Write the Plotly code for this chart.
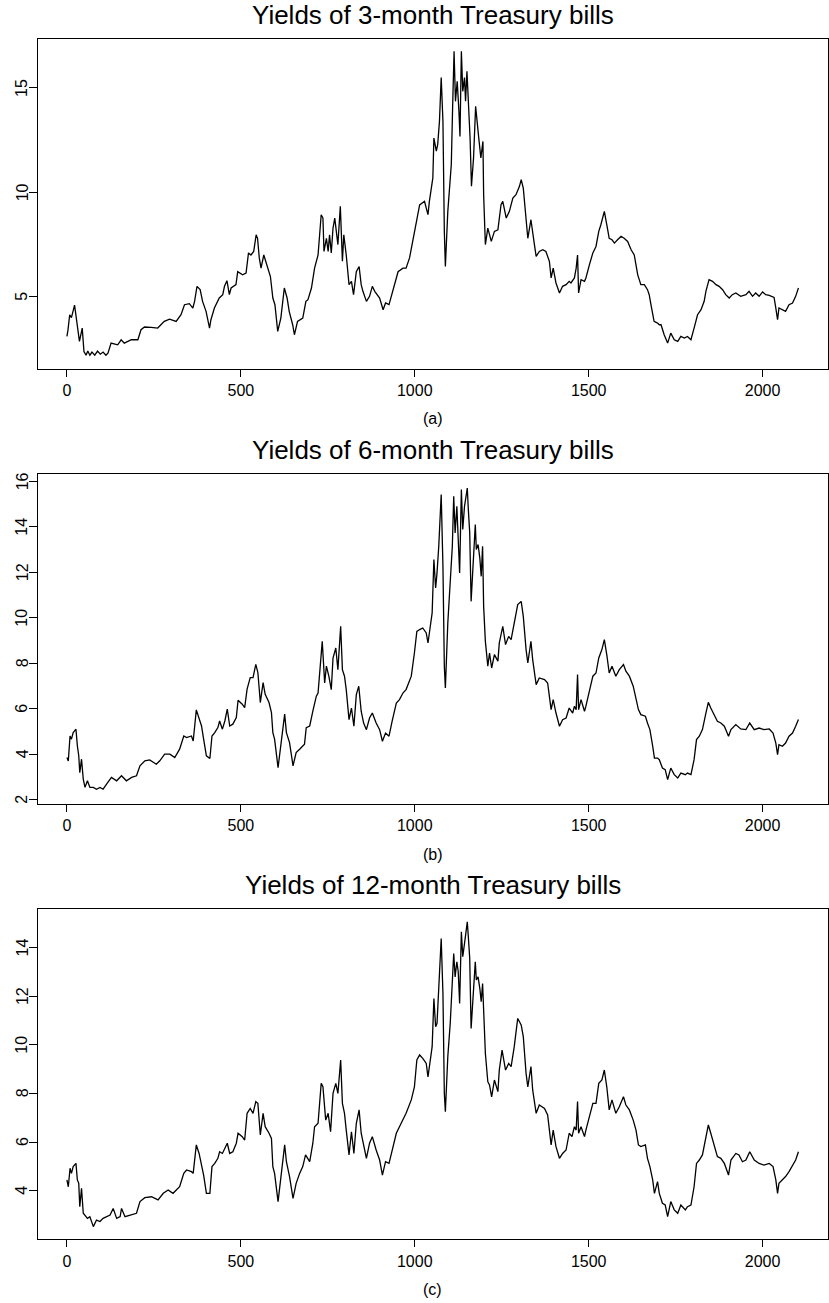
import plotly.graph_objects as go

# ---------------- data ----------------
t_3m = [0, 3, 8, 13, 22, 30, 36, 44, 49, 55, 60, 66, 72, 80, 88, 96, 104, 112, 118, 127, 146, 156, 165, 185, 204, 213, 223, 242, 261, 280, 295, 314, 328, 338, 352, 362, 367, 374, 383, 390, 400, 410, 414, 424, 438, 448, 453, 460, 467, 472, 486, 491, 505, 515, 522, 529, 537, 544, 548, 553, 558, 566, 577, 585, 592, 598, 606, 615, 625, 633, 639, 649, 654, 663, 678, 687,
        693, 703, 712, 722, 731, 736, 739, 746, 751, 755, 760, 765, 770, 774, 779, 786, 792, 796, 803, 811, 818, 824, 832, 840, 846, 851, 861, 870, 878, 885, 899, 909, 916, 926, 937, 952, 966, 975, 985, 995, 1004, 1014, 1028, 1038, 1042, 1052, 1055, 1062, 1066, 1071, 1076, 1081, 1085, 1088, 1095, 1100, 1105, 1109, 1113, 1117, 1122, 1127, 1130, 1134, 1138, 1143, 1146, 1150, 1154, 1159, 1163, 1169, 1175, 1179, 1184, 1190, 1196, 1198, 1203, 1210, 1220, 1229, 1239, 1248, 1253, 1263, 1272, 1282, 1291, 1301, 1306, 1312, 1320, 1325, 1334, 1339, 1344, 1349, 1358, 1368, 1377, 1387, 1392, 1398, 1406, 1416, 1425, 1435, 1444,
        1449, 1459, 1464, 1468, 1471, 1478, 1488, 1492, 1502, 1512, 1521, 1529, 1535, 1540, 1545, 1552, 1559, 1567, 1574, 1583, 1593, 1602, 1612, 1622, 1631, 1636, 1641, 1650, 1660, 1669, 1674, 1679, 1684, 1688, 1698, 1703, 1708, 1717, 1727, 1736, 1746, 1756, 1765, 1775, 1784, 1794, 1803, 1813, 1823, 1832, 1837, 1846, 1856, 1866, 1875, 1885, 1894, 1904, 1913, 1923, 1937, 1952, 1961, 1971, 1980, 1990, 2000, 2009, 2019, 2033, 2038, 2043, 2047, 2057, 2066, 2076, 2086, 2095, 2103]
y_3m = [3.1, 3.4, 4.14, 4.0, 4.6, 3.66, 2.86, 3.5, 2.38, 2.2, 2.4, 2.2, 2.35, 2.2, 2.4, 2.25, 2.35, 2.2, 2.3, 2.78, 2.7, 2.94, 2.78, 2.94, 2.94, 3.42, 3.55, 3.53, 3.5, 3.82, 3.93, 3.82, 4.14, 4.62, 4.67, 4.46, 4.78, 5.5, 5.34, 4.78, 4.3, 3.5, 3.9, 4.46, 4.94, 5.1, 5.5, 5.77, 5.1, 5.42, 5.58, 6.2, 6.05, 6.13, 7.1, 7.0, 7.17, 7.97, 7.8, 6.86, 6.37, 7.0, 6.37, 5.97, 4.94, 4.62, 3.34, 3.98, 5.42, 4.94, 4.3, 3.66, 3.18, 3.82, 3.98, 4.78,
        4.86, 5.42, 6.37, 7.0, 8.93, 8.77, 7.17, 7.8, 7.17, 7.97, 7.1, 8.29, 8.77, 8.13, 7.5, 9.33, 6.7, 7.97, 7.0, 5.58, 5.74, 5.1, 6.2, 6.45, 5.58, 5.26, 4.78, 5.02, 5.5, 5.26, 4.94, 4.38, 4.7, 4.62, 5.26, 6.2, 6.37, 6.37, 6.86, 7.8, 8.44, 9.4, 9.57, 8.93, 9.57, 10.69, 12.6, 11.97, 12.3, 13.4, 15.5, 13.4, 8.13, 6.45, 9.09, 10.05, 11.33, 14.2, 16.76, 14.36, 15.32, 13.88, 12.68, 16.76, 14.84, 15.5, 14.36, 15.8, 14.36, 12.6, 10.29, 11.65, 14.12, 13.24, 12.6, 11.65, 12.44, 9.89, 7.5, 8.29, 7.65, 8.13, 8.21, 9.41, 9.57, 8.77, 9.09, 9.73, 9.89, 10.29, 10.61, 10.2, 8.77, 7.8, 8.69, 7.97, 7.5, 6.93, 7.17, 7.25, 7.17, 6.7, 5.9, 6.37, 5.66, 5.18, 5.5, 5.58, 5.74,
        5.66, 5.9, 6.37, 7.0, 5.18, 5.82, 5.74, 5.9, 6.53, 7.1, 7.41, 8.13, 8.45, 8.77, 9.09, 8.45, 7.8, 7.73, 7.57, 7.73, 7.89, 7.8, 7.65, 7.25, 7.0, 6.53, 6.05, 5.58, 5.58, 5.34, 5.1, 4.62, 4.14, 3.82, 3.74, 3.66, 3.66, 3.18, 2.78, 3.26, 2.94, 2.86, 3.1, 3.02, 3.1, 2.94, 3.5, 4.14, 4.38, 4.78, 5.26, 5.82, 5.74, 5.58, 5.5, 5.34, 5.1, 4.94, 5.1, 5.18, 5.02, 5.1, 5.26, 5.02, 5.18, 5.02, 5.23, 5.1, 5.07, 4.97, 4.46, 3.9, 4.46, 4.38, 4.3, 4.62, 4.7, 5.02, 5.42]

t_6m = [0, 4, 9, 13, 18, 26, 30, 34, 37, 42, 47, 52, 59, 66, 76, 85, 95, 104, 114, 128, 143, 157, 171, 186, 200, 210, 224, 238, 257, 267, 281, 296, 310, 324, 336, 344, 358, 363, 372, 380, 387, 393, 401, 411, 417, 425, 434, 439, 447, 454, 461, 468, 477, 487, 492, 504, 511, 518, 527, 535, 543, 549, 556, 564, 570, 581, 588, 592, 597, 607, 614, 621, 626, 631, 640, 650, 659, 669, 683, 688, 698,
        707, 717, 722, 729, 734, 741, 746, 753, 760, 765, 773, 779, 787, 792, 798, 803, 811, 818, 825, 832, 839, 846, 853, 861, 870, 878, 889, 899, 907, 916, 926, 935, 947, 956, 966, 975, 990, 999, 1006, 1014, 1023, 1033, 1038, 1042, 1050, 1055, 1060, 1064, 1069, 1076, 1081, 1085, 1088, 1095, 1102, 1108, 1112, 1116, 1121, 1125, 1129, 1134, 1138, 1143, 1148, 1151, 1154, 1158, 1162, 1167, 1174, 1177, 1182, 1187, 1191, 1195, 1198, 1203, 1210, 1215, 1221, 1229, 1239, 1243, 1253, 1261, 1270, 1277, 1286, 1296, 1306, 1312, 1320, 1325, 1334, 1339, 1349, 1358, 1373, 1382, 1392, 1398, 1406, 1416, 1425, 1435, 1444,
        1454, 1459, 1464, 1468, 1471, 1478, 1488, 1492, 1502, 1512, 1521, 1529, 1538, 1545, 1552, 1559, 1567, 1578, 1588, 1600, 1607, 1617, 1628, 1636, 1643, 1650, 1663, 1669, 1676, 1684, 1689, 1698, 1703, 1712, 1720, 1727, 1736, 1746, 1756, 1765, 1778, 1784, 1794, 1803, 1810, 1818, 1827, 1837, 1844, 1851, 1861, 1870, 1880, 1890, 1902, 1909, 1923, 1937, 1952, 1963, 1976, 1990, 2004, 2019, 2030, 2038, 2043, 2047, 2057, 2066, 2076, 2086, 2095, 2103]
y_6m = [3.85, 3.7, 4.8, 4.66, 4.95, 5.1, 4.37, 3.93, 3.19, 3.78, 2.9, 2.54, 2.83, 2.54, 2.54, 2.46, 2.54, 2.46, 2.68, 2.98, 2.83, 3.05, 2.83, 2.98, 3.05, 3.49, 3.71, 3.75, 3.56, 3.71, 4.0, 4.0, 3.85, 4.22, 4.8, 4.73, 4.8, 4.58, 5.95, 5.61, 5.24, 4.66, 3.93, 3.81, 4.8, 4.95, 5.17, 5.46, 5.1, 5.46, 5.98, 5.24, 5.32, 5.61, 6.37, 6.2, 6.05, 6.86, 7.37, 7.37, 7.95, 7.59, 6.27, 7.15, 6.63, 6.27, 5.83, 4.95, 4.66, 3.41, 4.37, 5.24, 5.76, 4.95, 4.51, 3.49, 4.07, 4.22, 4.44, 5.17, 5.24,
        5.89, 6.55, 6.69, 7.87, 8.96, 7.13, 7.87, 7.43, 6.84, 8.23, 8.67, 7.72, 9.62, 7.72, 7.43, 6.84, 5.52, 6.03, 5.23, 6.62, 6.99, 5.89, 5.37, 5.08, 5.59, 5.81, 5.37, 5.08, 4.57, 4.93, 4.79, 5.45, 6.25, 6.4, 6.69, 6.84, 7.43, 8.45, 9.4, 9.48, 9.55, 9.33, 8.89, 9.33, 10.21, 12.56, 11.31, 11.97, 13.14, 15.42, 12.26, 7.87, 6.91, 9.77, 11.38, 13.14, 15.34, 13.73, 14.9, 13.58, 11.97, 15.64, 13.88, 14.9, 15.49, 15.7, 14.76, 13.73, 10.72, 11.97, 14.1, 13.0, 13.22, 12.63, 11.82, 13.14, 10.5, 8.96, 7.87, 8.45, 7.79, 8.38, 8.09, 8.89, 9.62, 8.82, 9.18, 9.04, 9.84, 10.58, 10.72, 10.06, 8.6, 8.01, 8.96, 8.16, 7.06, 7.35, 7.28, 7.13, 5.96, 6.4, 5.81, 5.23, 5.52, 5.59, 6.03,
        5.81, 6.11, 5.96, 7.5, 5.96, 6.4, 5.89, 6.11, 6.77, 7.43, 7.57, 8.23, 8.6, 9.04, 8.38, 7.57, 7.87, 7.43, 7.72, 7.94, 7.65, 7.43, 6.99, 6.4, 5.96, 5.74, 5.67, 5.37, 5.08, 4.35, 3.83, 3.83, 3.76, 3.39, 3.32, 2.88, 3.39, 3.1, 2.95, 3.17, 3.1, 3.17, 3.1, 3.76, 4.64, 4.79, 5.08, 5.81, 6.28, 6.03, 5.74, 5.45, 5.37, 5.23, 4.79, 5.08, 5.3, 5.11, 5.08, 5.37, 5.08, 5.15, 5.08, 5.11, 4.93, 4.49, 3.98, 4.42, 4.35, 4.49, 4.79, 4.93, 5.23, 5.52]

t_12m = [0, 4, 9, 13, 18, 26, 30, 34, 37, 42, 47, 52, 59, 66, 76, 85, 95, 104, 114, 124, 133, 143, 153, 157, 167, 181, 200, 210, 224, 243, 262, 277, 291, 305, 324, 336, 344, 358, 363, 372, 380, 387, 393, 401, 411, 417, 425, 434, 439, 447, 454, 461, 468, 477, 487, 492, 504, 511, 518, 527, 535, 543, 549, 556, 564, 570, 581, 588, 592, 597, 607, 614, 621, 626, 631, 640, 650, 659, 669, 678, 686, 698,
         707, 712, 722, 731, 736, 744, 751, 758, 765, 773, 779, 787, 792, 798, 803, 811, 818, 825, 832, 840, 846, 853, 861, 870, 878, 889, 899, 907, 916, 926, 935, 947, 956, 966, 975, 990, 999, 1006, 1014, 1023, 1033, 1038, 1042, 1050, 1055, 1060, 1064, 1069, 1076, 1081, 1085, 1088, 1095, 1102, 1108, 1112, 1116, 1121, 1125, 1129, 1134, 1138, 1143, 1148, 1151, 1154, 1158, 1162, 1167, 1174, 1177, 1182, 1187, 1191, 1195, 1198, 1203, 1210, 1215, 1221, 1229, 1239, 1243, 1251, 1261, 1270, 1277, 1286, 1296, 1306, 1312, 1320, 1325, 1334, 1339, 1349, 1358, 1373, 1382, 1392, 1398, 1406, 1416, 1425, 1435, 1444,
         1452, 1459, 1464, 1468, 1471, 1478, 1488, 1492, 1502, 1512, 1521, 1529, 1538, 1545, 1552, 1559, 1567, 1578, 1588, 1600, 1607, 1617, 1628, 1636, 1643, 1650, 1663, 1669, 1676, 1684, 1689, 1698, 1703, 1712, 1720, 1727, 1736, 1746, 1756, 1765, 1778, 1784, 1794, 1803, 1810, 1818, 1827, 1837, 1844, 1851, 1861, 1870, 1880, 1890, 1902, 1909, 1923, 1932, 1942, 1952, 1963, 1976, 1990, 2004, 2019, 2030, 2038, 2043, 2047, 2057, 2066, 2076, 2086, 2095, 2103]
y_12m = [4.44, 4.16, 4.92, 4.71, 4.99, 5.12, 4.44, 4.3, 3.34, 4.1, 3.07, 3.0, 2.86, 2.93, 2.52, 2.79, 2.73, 2.86, 2.93, 3.0, 3.27, 2.86, 2.93, 3.27, 2.93, 3.0, 3.07, 3.55, 3.71, 3.75, 3.62, 3.89, 4.03, 3.89, 4.16, 4.71, 4.85, 4.78, 4.71, 5.88, 5.53, 5.05, 4.64, 3.89, 3.89, 4.99, 5.12, 5.33, 5.6, 5.53, 5.74, 5.95, 5.53, 5.6, 5.95, 6.36, 6.22, 6.08, 7.18, 7.38, 7.18, 7.66, 7.59, 6.29, 7.18, 6.63, 6.36, 6.15, 4.99, 4.71, 3.55, 4.44, 5.4, 5.88, 5.19, 4.58, 3.68, 4.3, 4.71, 4.99, 5.47, 5.19,
         5.95, 6.63, 6.77, 8.41, 8.27, 6.9, 7.18, 6.42, 8.0, 8.41, 8.0, 9.37, 7.59, 7.18, 6.49, 5.47, 6.42, 5.53, 6.77, 7.32, 6.36, 5.81, 5.33, 5.95, 6.22, 5.67, 5.26, 4.64, 5.19, 5.12, 5.67, 6.36, 6.63, 6.9, 7.18, 7.73, 8.27, 9.37, 9.58, 9.44, 9.23, 8.68, 9.03, 9.92, 11.9, 10.74, 10.88, 12.52, 14.37, 12.11, 8.0, 7.25, 9.51, 10.88, 12.38, 13.75, 12.79, 13.41, 13.0, 11.7, 14.64, 13.62, 14.16, 14.71, 15.05, 14.44, 13.55, 10.67, 11.84, 13.41, 12.66, 12.79, 12.32, 11.77, 12.52, 11.15, 9.64, 8.48, 8.34, 7.86, 8.55, 8.07, 8.96, 9.78, 8.96, 9.23, 9.1, 9.92, 11.08, 10.81, 10.33, 8.82, 8.27, 9.1, 8.14, 7.18, 7.52, 7.38, 7.11, 5.88, 6.49, 5.81, 5.33, 5.53, 5.67, 6.36,
         6.22, 6.63, 6.49, 7.66, 6.36, 6.63, 6.22, 6.49, 7.04, 7.59, 7.59, 8.41, 8.55, 8.96, 8.27, 7.32, 7.73, 7.18, 7.45, 7.86, 7.52, 7.32, 6.9, 6.49, 5.88, 5.81, 5.88, 5.33, 4.99, 4.44, 3.89, 4.37, 3.89, 3.48, 3.41, 2.93, 3.55, 3.21, 3.07, 3.41, 3.21, 3.34, 3.41, 4.16, 5.12, 5.26, 5.47, 6.22, 6.7, 6.36, 5.88, 5.4, 5.33, 5.12, 4.64, 5.26, 5.53, 5.47, 5.19, 5.26, 5.6, 5.26, 5.12, 5.05, 5.12, 4.99, 4.44, 3.89, 4.3, 4.44, 4.58, 4.78, 5.05, 5.26, 5.6]

titles = ["Yields of 3-month Treasury bills",
          "Yields of 6-month Treasury bills",
          "Yields of 12-month Treasury bills"]
sublabels = ["(a)", "(b)", "(c)"]
x_ticks = [0, 500, 1000, 1500, 2000]
y_ticks = [[5, 10, 15],
           [2, 4, 6, 8, 10, 12, 14, 16],
           [4, 6, 8, 10, 12, 14]]

# ---------------- layout (pixels) ----------------
W, H = 829, 1303
left_px, right_px = 37.7, 828.0
boxes = [(38.7, 369.0), (474.0, 804.0), (909.0, 1239.3)]
y_ranges = [[1.54, 17.36], [1.81, 16.32], [2.0, 15.58]]
x_range = [-84, 2188]
ylabel_center_px = 22.0

FONT = "Liberation Sans, Arial, Helvetica, sans-serif"

def py(p):
    return 1 - p / H

series = [(t_3m, y_3m), (t_6m, y_6m), (t_12m, y_12m)]

fig = go.Figure()
layout = dict(
    width=W, height=H,
    margin=dict(l=0, r=0, t=0, b=0),
    paper_bgcolor="white", plot_bgcolor="white",
    showlegend=False,
    font=dict(family=FONT, color="black", size=16),
)
annotations = []
for i, ((tx, ty), (top, bot)) in enumerate(zip(series, boxes)):
    sfx = "" if i == 0 else str(i + 1)
    fig.add_trace(go.Scatter(x=tx, y=ty, mode="lines",
                             line=dict(color="black", width=1.3),
                             xaxis="x" + sfx, yaxis="y" + sfx,
                             hoverinfo="skip"))
    layout["xaxis" + sfx] = dict(
        domain=[left_px / W, right_px / W], range=x_range,
        anchor="y" + sfx, tickvals=x_ticks, ticktext=[str(v) for v in x_ticks],
        ticks="outside", ticklen=7, tickwidth=1, tickcolor="black",
        showline=True, linecolor="black", linewidth=1, mirror=True,
        showgrid=False, zeroline=False,
        tickfont=dict(family=FONT, size=16, color="black"),
    )
    layout["yaxis" + sfx] = dict(
        domain=[py(bot), py(top)], range=y_ranges[i],
        anchor="x" + sfx, tickvals=y_ticks[i], showticklabels=False,
        ticks="outside", ticklen=8, tickwidth=1, tickcolor="black",
        showline=True, linecolor="black", linewidth=1, mirror=True,
        showgrid=False, zeroline=False,
    )
    # rotated y tick labels placed at the tick values
    for v in y_ticks[i]:
        annotations.append(dict(text=str(v), x=ylabel_center_px / W, y=v,
                                xref="paper", yref="y" + sfx,
                                xanchor="center", yanchor="middle", textangle=-90,
                                showarrow=False,
                                font=dict(family=FONT, size=16, color="black")))
    cx = (left_px + right_px) / 2 / W
    annotations.append(dict(text=titles[i], x=cx, y=py(top - 24), xref="paper", yref="paper",
                            xanchor="center", yanchor="middle", showarrow=False,
                            font=dict(family=FONT, size=26, color="black")))
    annotations.append(dict(text=sublabels[i], x=cx, y=py(bot + 50), xref="paper", yref="paper",
                            xanchor="center", yanchor="middle", showarrow=False,
                            font=dict(family=FONT, size=16, color="black")))
layout["annotations"] = annotations
fig.update_layout(**layout)
fig.write_html("out.html",
               config={"displayModeBar": False},
               post_script="document.body.style.margin='0';document.body.style.overflow='hidden';")
